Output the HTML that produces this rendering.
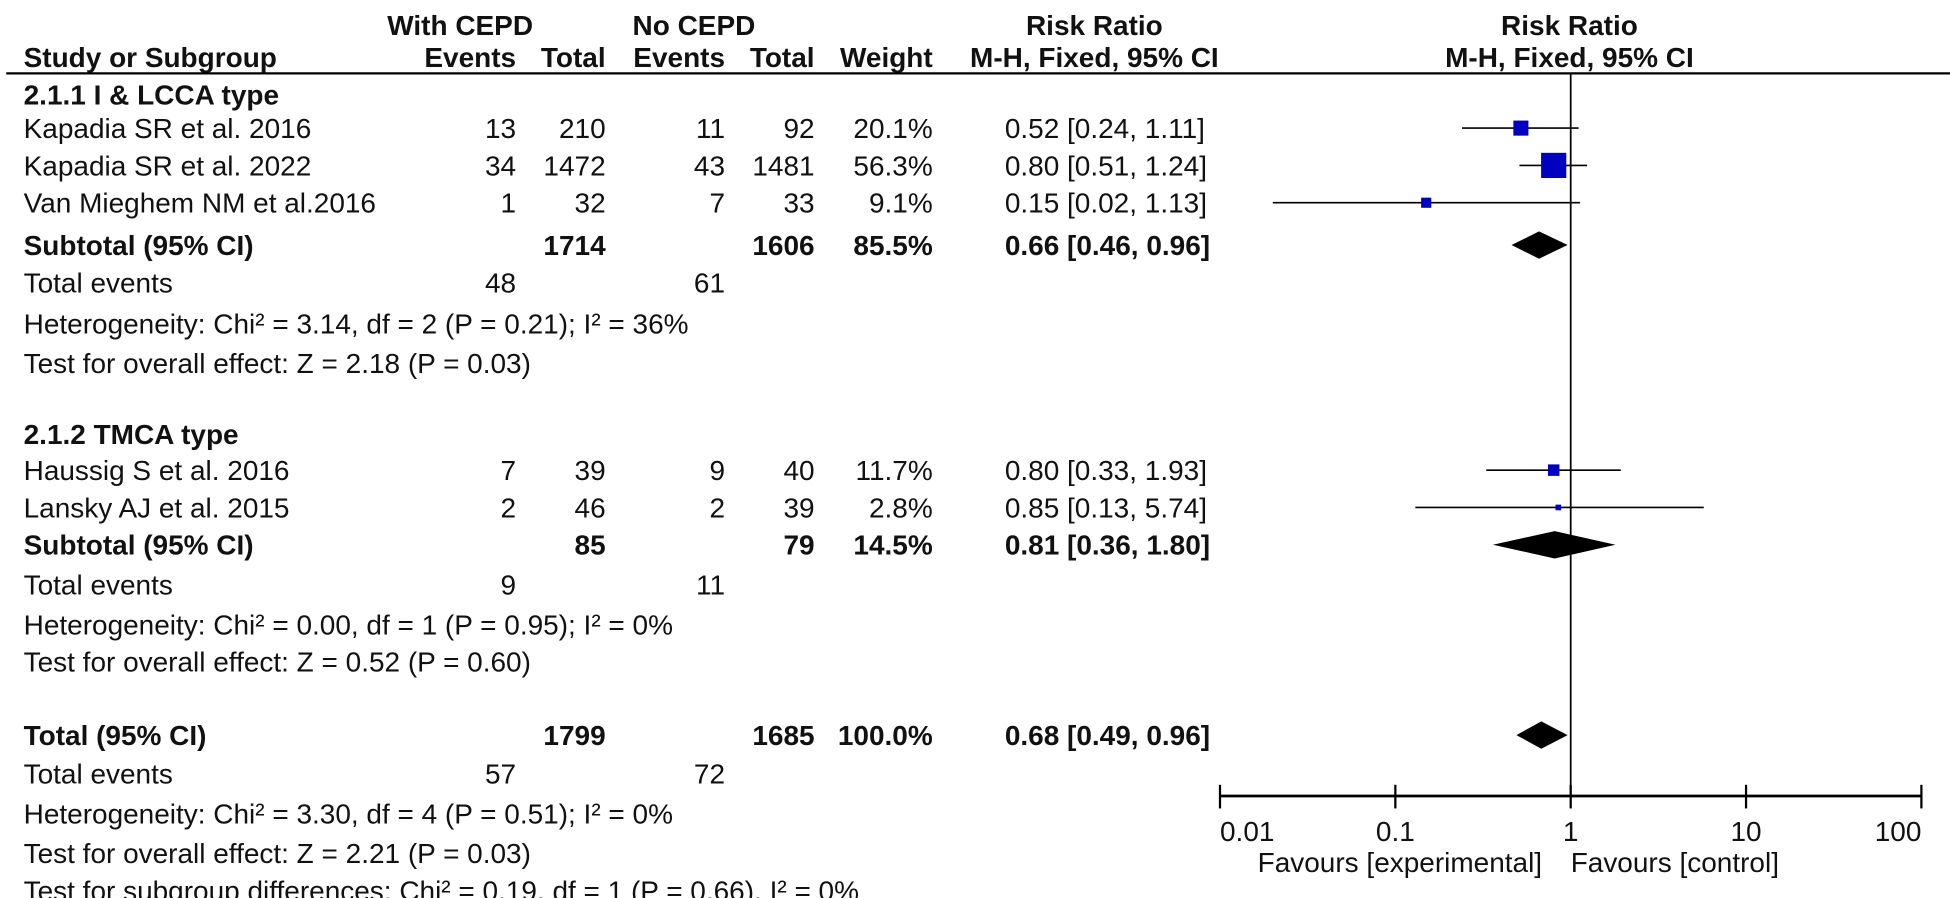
<!DOCTYPE html>
<html><head><meta charset="utf-8"><style>
html,body{margin:0;padding:0;background:#fff;}
svg{display:block;font-family:"Liberation Sans",Arial,sans-serif;}
</style></head><body>
<svg id="c" width="1950" height="898" viewBox="0 0 1568 722" preserveAspectRatio="none" xmlns="http://www.w3.org/2000/svg">
<g id="txt"></g>
<g id="plot"></g>
</svg>
<script>
const studyNames=["Kapadia SR et al. 2016","Kapadia SR et al. 2022","Van Mieghem NM et al.2016","Haussig S et al. 2016","Lansky AJ et al. 2015"];
const evExp=[13,34,1,7,2];
const totExp=[210,1472,32,39,46];
const evCtl=[11,43,7,9,2];
const totCtl=[92,1481,33,40,39];
const weights=[20.1,56.3,9.1,11.7,2.8];
const rr=[0.52,0.80,0.15,0.80,0.85];
const lo=[0.24,0.51,0.02,0.33,0.13];
const hi=[1.11,1.24,1.13,1.93,5.74];
const studyRows=[103,133,163,378,408];
const pooledRR=[0.66,0.81,0.68];
const pooledLo=[0.46,0.36,0.49];
const pooledHi=[0.96,1.80,0.96];
const pooledRows=[197,438,591];
const ticks=[0.01,0.1,1,10,100];
const tickLabels=["0.01","0.1","1","10","100"];

const NS="http://www.w3.org/2000/svg";
const T=document.getElementById('txt'), P=document.getElementById('plot');
function el(tag,attrs,parent){const e=document.createElementNS(NS,tag);for(const k in attrs)e.setAttribute(k,attrs[k]);parent.appendChild(e);return e;}
function text(x,y,s,anchor,bold,name){
  const e=el('text',{x:x,y:y+8,'font-size':22.5,'text-anchor':anchor||'start','font-weight':bold?'bold':'normal',fill:'#111'},T);
  e.textContent=s;
  
  
  return e;
}
const L=19;
const xScale=v=>1263+141*Math.log10(v);
text(370,20,"With CEPD","middle",true,'header-with-cepd');
text(558,20,"No CEPD","middle",true,'header-no-cepd');
text(880,20,"Risk Ratio","middle",true,'header-risk-ratio');
text(1262,20,"Risk Ratio","middle",true,'header-risk-ratio-plot');
text(L,46,"Study or Subgroup","start",true,'header-study');
text(415,46,"Events","end",true,'header-events-exp');
text(487,46,"Total","end",true,'header-total-exp');
text(583,46,"Events","end",true,'header-events-ctl');
text(655,46,"Total","end",true,'header-total-ctl');
text(750,46,"Weight","end",true,'header-weight');
text(880,46,"M-H, Fixed, 95% CI","middle",true,'header-method');
text(1262,46,"M-H, Fixed, 95% CI","middle",true,'header-method-plot');
const hl=el('line',{x1:5,y1:59,x2:1568,y2:59,stroke:'#000','stroke-width':1.8},P);



text(L,76,"2.1.1 I & LCCA type","start",true,'subgroup-1-title');
text(L,349,"2.1.2 TMCA type","start",true,'subgroup-2-title');

const f2=v=>v.toFixed(2);
for(let i=0;i<studyNames.length;i++){
  const y=studyRows[i];
  text(L,y,studyNames[i],"start",false,'study-name');
  text(415,y,String(evExp[i]),"end",false,'events-exp');
  text(487,y,String(totExp[i]),"end",false,'total-exp');
  text(583,y,String(evCtl[i]),"end",false,'events-ctl');
  text(655,y,String(totCtl[i]),"end",false,'total-ctl');
  text(750,y,weights[i].toFixed(1)+"%","end",false,'weight');
  text(808,y,f2(rr[i])+" ["+f2(lo[i])+", "+f2(hi[i])+"]","start",false,'risk-ratio-ci');
  const l=el('line',{x1:Math.max(980,xScale(lo[i])),y1:y,x2:xScale(hi[i]),y2:y,stroke:'#000','stroke-width':1.3},P);
  
  
  const s=Math.max(3.5,Math.sqrt(weights[i])*2.7);
  const r=el('rect',{x:xScale(rr[i])-s/2,y:y-s/2,width:s,height:s,fill:'#0000c0'},P);
  
  
}
const pooledLabels=["Subtotal (95% CI)","Subtotal (95% CI)","Total (95% CI)"];
const pooledTot=[[1714,1606,"85.5%"],[85,79,"14.5%"],[1799,1685,"100.0%"]];
for(let i=0;i<3;i++){
  const y=pooledRows[i];
  text(L,y,pooledLabels[i],"start",true,'pooled-label');
  text(487,y,String(pooledTot[i][0]),"end",true,'pooled-total-exp');
  text(655,y,String(pooledTot[i][1]),"end",true,'pooled-total-ctl');
  text(750,y,pooledTot[i][2],"end",true,'pooled-weight');
  text(808,y,f2(pooledRR[i])+" ["+f2(pooledLo[i])+", "+f2(pooledHi[i])+"]","start",true,'pooled-ci');
  const a=xScale(pooledLo[i]),b=xScale(pooledHi[i]),c=xScale(pooledRR[i]);
  const d=el('polygon',{points:`${a},${y} ${c},${y-11} ${b},${y} ${c},${y+11}`,fill:'#000'},P);
  
  
}
const info=[
 [227,"Total events","48","61"],[260,"Heterogeneity: Chi² = 3.14, df = 2 (P = 0.21); I² = 36%"],[292,"Test for overall effect: Z = 2.18 (P = 0.03)"],
 [470,"Total events","9","11"],[502,"Heterogeneity: Chi² = 0.00, df = 1 (P = 0.95); I² = 0%"],[532,"Test for overall effect: Z = 0.52 (P = 0.60)"],
 [622,"Total events","57","72"],[654,"Heterogeneity: Chi² = 3.30, df = 4 (P = 0.51); I² = 0%"],[686,"Test for overall effect: Z = 2.21 (P = 0.03)"],
 [716,"Test for subgroup differences: Chi² = 0.19, df = 1 (P = 0.66), I² = 0%"]];
info.forEach(r=>{text(L,r[0],r[1],"start",false,'summary-text');
  if(r[2]){text(415,r[0],r[2],"end",false,'total-events-exp');text(583,r[0],r[3],"end",false,'total-events-ctl');}});

const v=el('line',{x1:1263,y1:59,x2:1263,y2:640,stroke:'#000','stroke-width':1.4},P);


const ax=el('line',{x1:xScale(ticks[0]),y1:640,x2:xScale(ticks[ticks.length-1]),y2:640,stroke:'#000','stroke-width':2.2},P);


ticks.forEach((t,i)=>{
  const x=xScale(t);
  const tk=el('line',{x1:x,y1:631,x2:x,y2:650,stroke:'#000','stroke-width':1.8},P);
  
  
  const anc=i==0?'start':(i==ticks.length-1?'end':'middle');
  text(x,668,tickLabels[i],anc,false,'x-tick-label');
});
text(1240,693,"Favours [experimental]","end",false,'favours-experimental');
text(1263,693,"Favours [control]","start",false,'favours-control');
</script>
</body></html>
